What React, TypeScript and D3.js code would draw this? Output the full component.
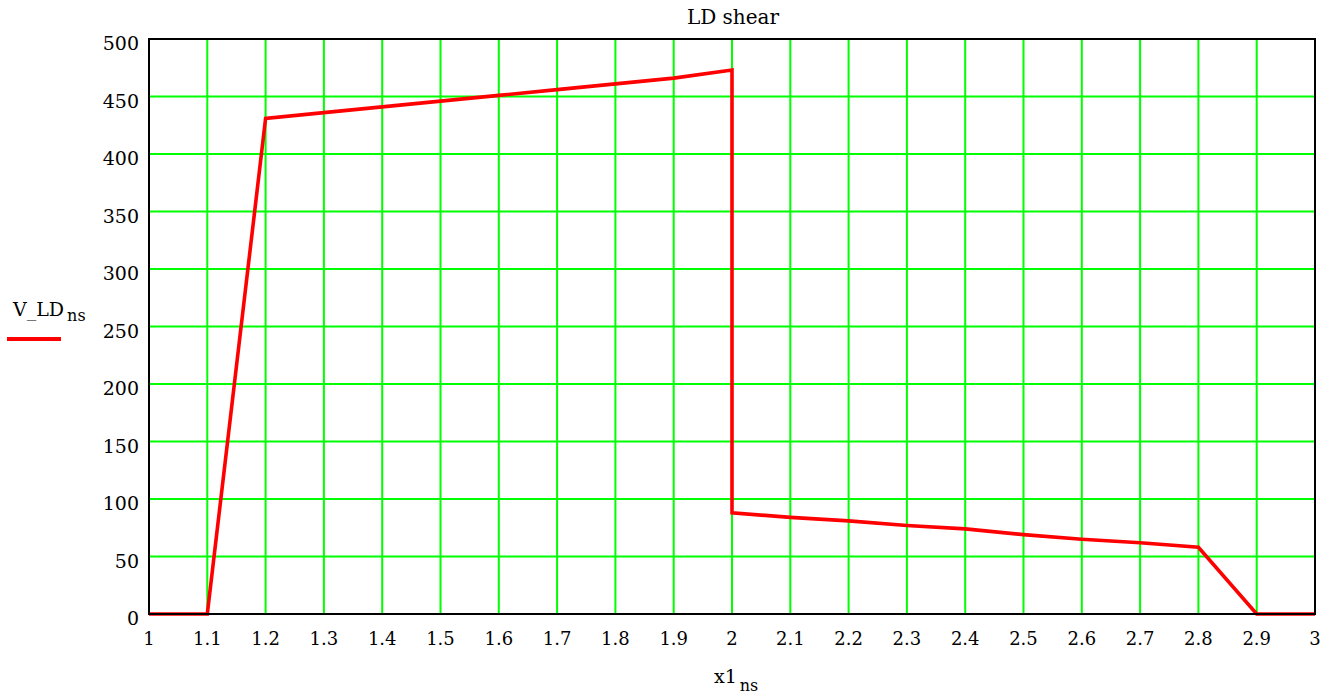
import React from "react";
import * as d3 from "d3";

const xValues = [1, 1.1, 1.2, 1.3, 1.4, 1.5, 1.6, 1.7, 1.8, 1.9, 2.0, 2.0, 2.1, 2.2, 2.3, 2.4, 2.5, 2.6, 2.7, 2.8, 2.9, 3.0];
const yValues = [0, 0, 431, 436, 441, 446, 451, 456, 461, 466, 473, 88, 84, 81, 77, 74, 69, 65, 62, 58, 0, 0];
const xTicks = [1, 1.1, 1.2, 1.3, 1.4, 1.5, 1.6, 1.7, 1.8, 1.9, 2, 2.1, 2.2, 2.3, 2.4, 2.5, 2.6, 2.7, 2.8, 2.9, 3];
const yTicks = [0, 50, 100, 150, 200, 250, 300, 350, 400, 450, 500];

const W = 1341, H = 698;
const L = 149, R = 1315, T = 39, B = 614;

export default function App() {
  const x = d3.scaleLinear().domain([1, 3]).range([L, R]);
  const y = d3.scaleLinear().domain([0, 500]).range([B, T]);
  const line = d3.line<number>().x((_, i) => x(xValues[i])).y((d) => y(d));
  const font = "'DejaVu Serif', serif";
  return (
    <svg width={W} height={H} style={{ position: "absolute", left: 0, top: 0, background: "#fff", fontFamily: font }}>
      <text x={733} y={24} fontSize={20} textAnchor="middle" fill="#000">LD shear</text>
      {xTicks.slice(1, -1).map((t) => (
        <line key={"gx" + t} x1={x(t)} x2={x(t)} y1={T} y2={B} stroke="#00ff00" strokeWidth={2} />
      ))}
      {yTicks.slice(1, -1).map((t) => (
        <line key={"gy" + t} x1={L} x2={R} y1={y(t)} y2={y(t)} stroke="#00ff00" strokeWidth={2} />
      ))}
      <path d={line(yValues) || ""} fill="none" stroke="#ff0000" strokeWidth={3.6} strokeLinejoin="miter" />
      <rect x={L} y={T} width={R - L} height={B - T} fill="none" stroke="#000" strokeWidth={2} />
      {yTicks.map((t) => (
        <text key={"yl" + t} x={139} y={y(t) + 11} fontSize={19} textAnchor="end" fill="#000">{t}</text>
      ))}
      {xTicks.map((t) => (
        <text key={"xl" + t} x={x(t)} y={645} fontSize={18} textAnchor="middle" fill="#000">{String(t)}</text>
      ))}
      <text x={714} y={683} fontSize={19} fill="#000">x1<tspan fontSize={16} dx={3} dy={8}>ns</tspan></text>
      <text x={13} y={316} fontSize={19} fill="#000">V_LD<tspan fontSize={16} dx={3} dy={5}>ns</tspan></text>
      <line x1={7} x2={61} y1={339} y2={339} stroke="#ff0000" strokeWidth={4} />
    </svg>
  );
}
